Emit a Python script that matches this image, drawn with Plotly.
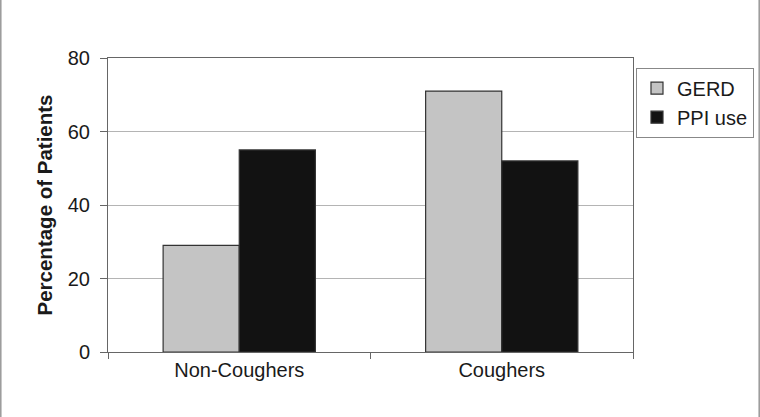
import plotly.graph_objects as go

# categories and values
groups = ["Non-Coughers", "Coughers"]
gerd = [29, 71]
ppi_use = [55, 52]

fig = go.Figure()
fig.add_trace(go.Bar(x=groups, y=gerd, name="GERD",
                     marker=dict(color="#c4c4c4", line=dict(color="#333333", width=1.2))))
fig.add_trace(go.Bar(x=groups, y=ppi_use, name="PPI use",
                     marker=dict(color="#121212", line=dict(color="#333333", width=1.2))))

# outer frame (left, bottom, right) in paper coords of the plot area
W, L, R, T, B = 760, 108, 127, 58, 65
pw, ph = W - L - R, 417 - T - B
x0, x1 = (0.8 - L) / pw, (759.2 - L) / pw
y0, y1 = (B - 416.2) / ph, (417 - T) / ph
frame = f"M {x0},{y1} L {x0},{y0} L {x1},{y0} L {x1},{y1}"

fig.update_layout(
    width=760, height=417,
    margin=dict(l=L, r=R, t=T, b=B, autoexpand=False),
    plot_bgcolor="white", paper_bgcolor="white",
    font=dict(family="Liberation Sans, Arial, sans-serif", size=20, color="#1a1a1a"),
    barmode="group", bargap=0.42, bargroupgap=0,
    legend=dict(x=1.0057, y=0.967, xanchor="left", yanchor="top",
                bordercolor="#888888", borderwidth=1, bgcolor="white",
                font=dict(size=20), itemwidth=30, tracegroupgap=2),
    showlegend=True,
    shapes=[dict(type="path", xref="paper", yref="paper", path=frame,
                 line=dict(color="#999999", width=1.5))],
)
fig.update_xaxes(showline=True, linecolor="#666666", mirror=True,
                 ticks="outside", tickson="boundaries", ticklen=6, tickcolor="#666666",
                 tickfont=dict(size=20))
fig.update_yaxes(range=[0, 80], dtick=20, showline=True, linecolor="#666666", mirror=True,
                 ticks="outside", ticklen=7, tickcolor="#666666",
                 gridcolor="#b4b4b4", gridwidth=1, zeroline=False,
                 tickfont=dict(size=20), ticklabelstandoff=6,
                 title=dict(text="<b>Percentage of Patients</b>", font=dict(size=20.5), standoff=9))

fig.write_html("out.html", config={"displayModeBar": False},
               post_script="document.body.style.margin='0';")
